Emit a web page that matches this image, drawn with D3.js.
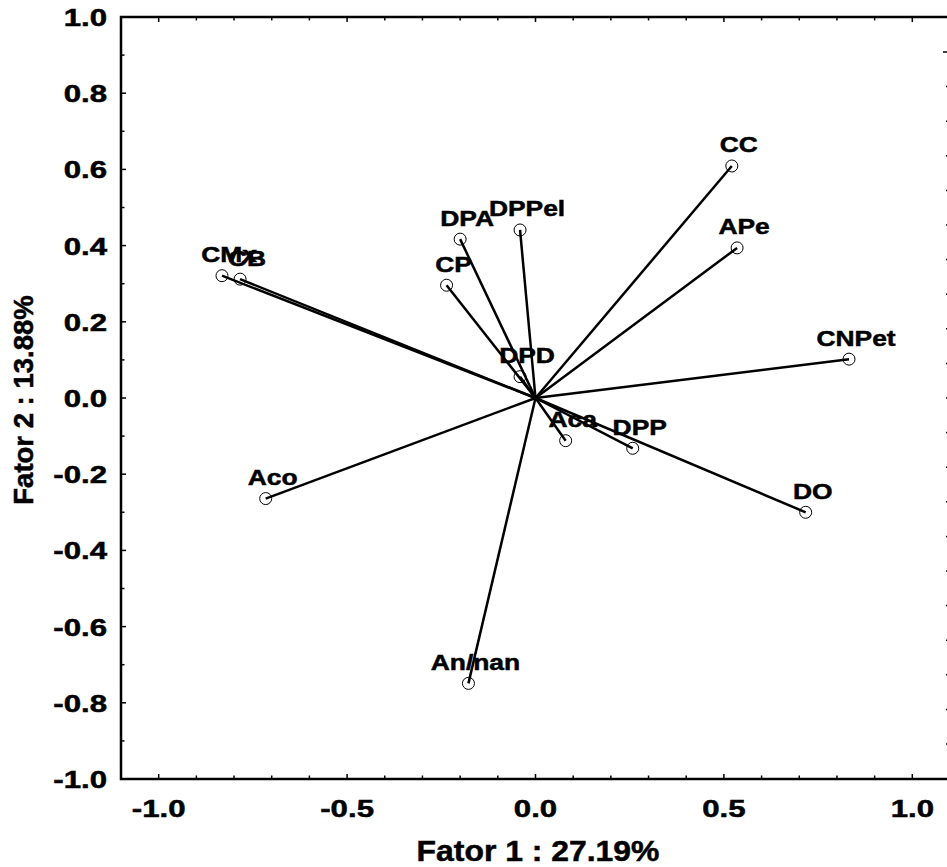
<!DOCTYPE html>
<html>
<head>
<meta charset="utf-8">
<script src="https://cdn.jsdelivr.net/npm/d3@7"></script>
<style>
  html, body { margin: 0; padding: 0; background: #fff; overflow: hidden; }
  text { font-family: "Liberation Sans", Arial, Helvetica, sans-serif; font-weight: bold; fill: #000; stroke: #000; stroke-width: 0.5px; }
</style>
</head>
<body>
<div id="chart"></div>
<script>
// Variable loadings (factor 1, factor 2)
const labels = ["CC", "APe", "CNPet", "DO", "DPP", "Aca", "An/nan", "Aco", "CMx", "CB", "CP", "DPA", "DPPel", "DPD"];
const factor1 = [0.521, 0.535, 0.832, 0.717, 0.258, 0.080, -0.178, -0.716, -0.832, -0.784, -0.236, -0.200, -0.041, -0.041];
const factor2 = [0.609, 0.394, 0.102, -0.300, -0.132, -0.112, -0.749, -0.264, 0.321, 0.312, 0.296, 0.417, 0.441, 0.056];

const xTicks = [-1.0, -0.5, 0.0, 0.5, 1.0];
const yTicks = [-1.0, -0.8, -0.6, -0.4, -0.2, 0.0, 0.2, 0.4, 0.6, 0.8, 1.0];
const xTitle = "Fator 1 : 27.19%";
const yTitle = "Fator 2 : 13.88%";

const data = labels.map((name, i) => ({ name, f1: factor1[i], f2: factor2[i] }));

const svgWidth = 947;
const svgHeight = 867;

const svg = d3.select('#chart').append('svg')
    .attr('width', svgWidth)
    .attr('height', svgHeight);

const x = d3.scaleLinear().domain([-1.1, 1.1]).range([121, 950]);
const y = d3.scaleLinear().domain([-1, 1]).range([779, 17]);
// the right-hand axis of the original uses its own spacing
const yRight = d3.scaleLinear().domain([-1, 1]).range([744, 52]);

// stretched bold text, like the original export
function stretchedText(g, tx, ty, str, size, sx, anchor, rotate) {
    return g.append('text')
        .attr('transform', `translate(${tx},${ty})${rotate ? ` rotate(${rotate})` : ''} scale(${sx},1)`)
        .attr('text-anchor', anchor)
        .style('font-size', `${size}px`)
        .text(str);
}

const minorX = d3.range(-11, 12).map(d => d / 10);
const minorY = d3.range(-10, 11).map(d => d / 10);
const isMajor = v => Math.abs(Math.round(v * 10) % 5) === 0;

// Frame ticks (pointing inward)
const ticks = svg.append('g').attr('stroke', '#000').attr('stroke-width', 1.5);
minorX.forEach(v => {
    const len = isMajor(v) ? 5 : 3.5;
    ticks.append('line').attr('x1', x(v)).attr('x2', x(v)).attr('y1', y(-1)).attr('y2', y(-1) - len);
    ticks.append('line').attr('x1', x(v)).attr('x2', x(v)).attr('y1', y(1)).attr('y2', y(1) + len);
});
minorY.forEach(v => {
    const len = Math.abs(Math.round(v * 10) % 2) === 0 ? 5 : 3.5;
    ticks.append('line').attr('x1', x(-1.1)).attr('x2', x(-1.1) + len).attr('y1', y(v)).attr('y2', y(v));
    ticks.append('line').attr('x1', x(1.1)).attr('x2', x(1.1) - (v === 1 ? 7 : 4)).attr('y1', yRight(v)).attr('y2', yRight(v));
});

// Frame
svg.append('rect')
    .attr('x', x(-1.1))
    .attr('y', y(1))
    .attr('width', x(1.1) - x(-1.1))
    .attr('height', y(-1) - y(1))
    .attr('fill', 'none')
    .attr('stroke', '#000')
    .attr('stroke-width', 2.5);

// Tick labels
const tickLabels = svg.append('g');
xTicks.forEach(v => {
    stretchedText(tickLabels, x(v), 817, d3.format('.1f')(v).replace('−', '-'), 24, 1.3, 'middle');
});
yTicks.forEach(v => {
    stretchedText(tickLabels, 107, y(v) + 9, d3.format('.1f')(v).replace('−', '-'), 24, 1.3, 'end');
});

// Axis titles
stretchedText(svg, 538, 861, xTitle, 29, 1.1, 'middle');
stretchedText(svg, 33, 400, yTitle, 27.5, 1, 'middle', -90);

// Loading vectors
svg.append('g').selectAll('line')
    .data(data)
    .enter()
    .append('line')
    .attr('x1', x(0))
    .attr('y1', y(0))
    .attr('x2', d => x(d.f1))
    .attr('y2', d => y(d.f2))
    .attr('stroke', '#000')
    .attr('stroke-width', 2.5);

svg.append('g').selectAll('circle')
    .data(data)
    .enter()
    .append('circle')
    .attr('cx', d => x(d.f1))
    .attr('cy', d => y(d.f2))
    .attr('r', 6)
    .attr('fill', 'none')
    .attr('stroke', '#000')
    .attr('stroke-width', 1);

// Variable labels
const pointLabels = svg.append('g');
data.forEach(d => {
    stretchedText(pointLabels, x(d.f1) + 7, y(d.f2) - 13.5, d.name, 22, 1.2, 'middle');
});
</script>
</body>
</html>
